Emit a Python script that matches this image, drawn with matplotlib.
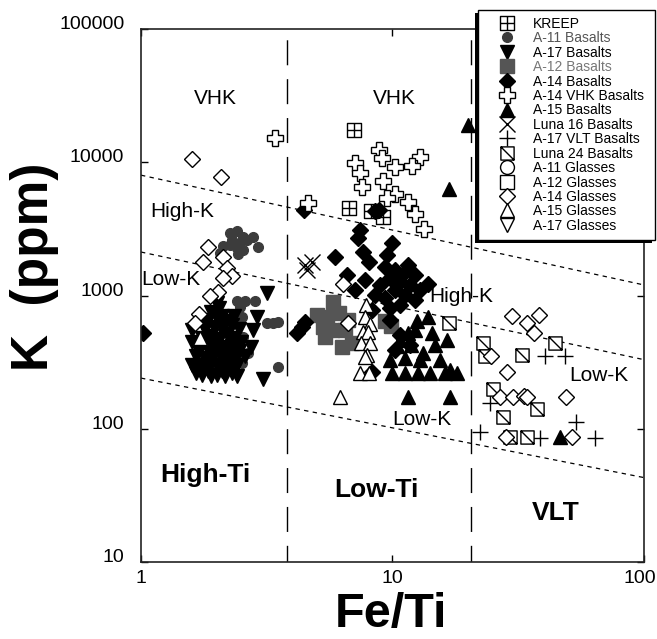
import numpy as np
import matplotlib
matplotlib.use("Agg")
import matplotlib.pyplot as plt
from matplotlib.path import Path
from matplotlib.patches import Rectangle
from matplotlib.transforms import ScaledTranslation

plt.rcParams['font.family'] = ['Liberation Sans', 'DejaVu Sans']

# ---- data (Fe/Ti, K ppm) ----
kreep_feti = [7.0, 6.7, 8.2, 9.2]
kreep_k = [17400, 4550, 4300, 3900]

a11_feti = [2.26, 2.40, 2.54, 2.31, 2.48, 2.64, 2.79, 2.92, 2.26, 2.40, 2.54, 2.43, 2.06, 2.12,
            2.40, 2.59, 2.84, 2.48, 2.31, 2.52, 2.26, 3.17, 3.35, 3.51, 2.36, 2.54, 2.66, 2.48,
            3.51, 2.52]
a11_k = [2960, 3050, 2750, 2610, 2460, 2610, 2750, 2330, 2400, 2260, 2200, 2050, 2090, 2340,
         905, 905, 905, 826, 655, 690, 630, 625, 625, 630, 440, 490, 370, 345, 290, 310]

a17_feti = [1.65, 1.75, 1.9, 2.0, 2.15, 2.3, 1.7, 1.85, 2.0, 2.2, 2.4, 1.65, 1.8, 1.95, 2.1,
            2.25, 2.45, 1.7, 1.85, 2.0, 2.15, 2.3, 1.75, 1.9, 2.05, 2.2, 2.35, 1.8, 1.95, 2.1,
            2.3, 1.85, 2.0, 2.15, 1.9, 2.05, 2.0, 2.1, 2.45, 2.5, 1.6, 1.6, 2.35, 2.6,
            1.7, 1.8, 1.9, 2.05, 2.2, 2.4, 1.75, 1.95, 2.1, 2.25, 1.85, 2.1, 2.25, 1.6, 2.35, 2.4,
            3.17, 2.89, 2.79, 3.06, 2.75]
a17_k = [260, 255, 250, 255, 250, 260, 300, 290, 300, 290, 300, 350, 340, 360, 340,
         350, 380, 420, 400, 430, 410, 420, 480, 500, 470, 510, 480, 560, 580, 550,
         600, 650, 680, 640, 750, 800, 880, 700, 560, 450, 450, 550, 700, 350,
         380, 440, 330, 370, 380, 420, 620, 450, 600, 470, 270, 270, 310, 300, 330, 250,
         1040, 690, 550, 235, 410]

a12_feti = [5.8, 5.0, 5.5, 6.1, 5.3, 5.75, 6.47, 6.65, 6.3, 6.9, 5.4, 9.3, 9.9]
a12_k = [900, 714, 690, 740, 580, 550, 550, 655, 410, 440, 490, 640, 590]

a14_feti = [1.02, 4.17, 4.45, 8.5, 8.8, 7.43, 7.26, 10.0, 7.6, 5.9, 9.5, 11.5, 6.6,
            9.3, 10.2, 11.2, 12.3, 9.8, 10.7, 11.7, 8.9, 10.2, 11.2, 9.3, 12.3, 10.7, 9.8,
            12.9, 8.5, 13.8, 8.3, 9.8, 8.1, 7.1, 7.8, 4.37, 4.49, 8.3, 10.7, 11.7, 10.2]
a14_k = [525, 525, 4390, 4300, 4390, 3100, 2700, 2460, 2130, 1960, 2010, 1690, 1430,
         1630, 1550, 1500, 1430, 1360, 1260, 1200, 1200, 1100, 1010, 960, 925, 849, 800,
         1100, 1010, 1230, 778, 655, 1790, 1100, 1310, 580, 630, 266, 505, 425, 390]

vhk_feti = [3.41, 4.6, 8.8, 12.9, 7.1, 9.1, 10.2, 12.0, 7.4, 9.2, 7.55, 10.2, 9.5, 11.5, 12.3, 13.3]
vhk_k = [15200, 4960, 12400, 11000, 9900, 10700, 9200, 9350, 8300, 7200, 6500, 5800, 5400,
         5050, 4100, 3170]

a15_feti = [19.9, 16.7, 12.5, 13.8, 11.5, 14.4, 16.5, 10.4, 13.2, 15.4, 10.0, 11.2, 12.6,
            14.1, 16.2, 18.0, 11.5, 16.9, 46.3, 10.7, 11.9, 12.9, 14.8, 11.2, 12.3, 9.8, 16.9]
a15_k = [19000, 6330, 640, 690, 520, 520, 463, 415, 370, 328, 264, 264, 264,
         264, 264, 264, 173, 173, 86, 463, 425, 328, 425, 340, 550, 328, 276]

luna16_feti = [4.5, 4.77, 4.57]
luna16_k = [1690, 1780, 1550]

vlt_feti = [40.4, 48.5, 24.4, 22.3, 38.6, 53.7, 63.9]
vlt_k = [350, 350, 157, 95, 85, 112, 85]

luna24_feti = [22.8, 23.3, 32.6, 44.3, 25.0, 37.5, 27.5, 29.3, 34.4, 16.7]
luna24_k = [440, 350, 355, 440, 198, 141, 122, 86, 86, 620]

a14g_feti = [1.6, 2.08, 1.85, 1.76, 2.12, 2.2, 2.3, 2.12, 2.02, 1.88, 1.70, 1.64, 6.35, 6.65,
             29.8, 34.2, 38.2, 36.4, 24.6, 28.5, 26.8, 30.1, 33.3, 34.4, 49.0, 28.3, 51.6]
a14g_k = [10640, 7800, 2300, 1770, 1960, 1610, 1400, 1350, 1070, 1000, 730, 620, 1230, 620,
          705, 620, 714, 520, 350, 268, 173, 173, 175, 173, 173, 86, 86]

a15g_feti = [7.85, 7.77, 8.14, 7.6, 8.0, 7.5, 8.14, 7.9, 7.77, 7.43, 8.07, 6.18, 1.72]
a15g_k = [850, 690, 615, 530, 530, 440, 440, 357, 345, 264, 264, 173, 480]

a11g_feti, a11g_k = [], []
a12g_feti, a12g_k = [], []
a17g_feti, a17g_k = [], []

# boundaries
vline_feti = [3.8, 20.5]
klines = [([1, 100], [8000, 1200]), ([1, 100], [2120, 330]), ([1, 100], [240, 43])]

# ---- custom markers ----
sq_cross = Path([(-1, -1), (1, -1), (1, 1), (-1, 1), (-1, -1), (0, -1), (0, 1), (-1, 0), (1, 0)],
                [Path.MOVETO, Path.LINETO, Path.LINETO, Path.LINETO, Path.CLOSEPOLY,
                 Path.MOVETO, Path.LINETO, Path.MOVETO, Path.LINETO])
sq_diag = Path([(-1, -1), (1, -1), (1, 1), (-1, 1), (-1, -1), (-1, 1), (1, -1)],
               [Path.MOVETO, Path.LINETO, Path.LINETO, Path.LINETO, Path.CLOSEPOLY,
                Path.MOVETO, Path.LINETO])

fig = plt.figure(figsize=(6.57, 6.39), dpi=100)
ax = fig.add_axes([0.2146, 0.1205, 0.7656, 0.8341])
ax.set_xscale('log')
ax.set_yscale('log')
ax.set_xlim(1, 100)
ax.set_ylim(10, 100000)

for xv in vline_feti:
    ax.axvline(xv, color='black', lw=1.0, ls=(6, (18, 10)), zorder=1)
for xs, ys in klines:
    ax.plot(xs, ys, color='black', lw=0.9, ls=(0, (3.5, 3.5)), zorder=1)

op = dict(linestyle='none')
ax.plot(kreep_feti, kreep_k, marker=sq_cross, ms=9.5, mfc='none', mec='black', mew=1, label='KREEP', **op)
ax.plot(a11_feti, a11_k, marker='o', ms=7, mfc='#3c3c3c', mec='#3c3c3c', label='A-11 Basalts', **op)
ax.plot(a17_feti, a17_k, marker='v', ms=10.5, mfc='black', mec='black', label='A-17 Basalts', **op)
ax.plot(a12_feti, a12_k, marker='s', ms=10.5, mfc='#555555', mec='#555555', label='A-12 Basalts', **op)
ax.plot(a14_feti, a14_k, marker='D', ms=8, mfc='black', mec='black', label='A-14 Basalts', **op)
ax.plot(vhk_feti, vhk_k, marker='P', ms=12, mfc='white', mec='black', mew=1, label='A-14 VHK Basalts', **op)
ax.plot(a15_feti, a15_k, marker='^', ms=10.5, mfc='black', mec='black', label='A-15 Basalts', **op)
ax.plot(luna16_feti, luna16_k, marker='x', ms=11, mec='black', mew=1, label='Luna 16 Basalts', **op)
ax.plot(vlt_feti, vlt_k, marker='+', ms=11, mec='black', mew=1, label='A-17 VLT Basalts', **op)
ax.plot(luna24_feti, luna24_k, marker=sq_diag, ms=9.5, mfc='white', mec='black', mew=1, label='Luna 24 Basalts', **op)
ax.plot(a11g_feti, a11g_k, marker='o', ms=10, mfc='white', mec='black', mew=1, label='A-11 Glasses', **op)
ax.plot(a12g_feti, a12g_k, marker='s', ms=10, mfc='white', mec='black', mew=1, label='A-12 Glasses', **op)
ax.plot(a14g_feti, a14g_k, marker='D', ms=8, mfc='white', mec='black', mew=1, label='A-14 Glasses', **op)
ax.plot(a15g_feti, a15g_k, marker='^', ms=10, mfc='white', mec='black', mew=1, label='A-15 Glasses', **op)
ax.plot(a17g_feti, a17g_k, marker='v', ms=10, mfc='white', mec='black', mew=1, label='A-17 Glasses', **op)

# region labels
ax.text(1.98, 30000, 'VHK', fontsize=15, ha='center', va='center')
ax.text(10.2, 30000, 'VHK', fontsize=15, ha='center', va='center')
ax.text(1.46, 4240, 'High-K', fontsize=15, ha='center', va='center')
ax.text(1.32, 1310, 'Low-K', fontsize=15, ha='center', va='center')
ax.text(18.8, 980, 'High-K', fontsize=15, ha='center', va='center')
ax.text(13.1, 117, 'Low-K', fontsize=15, ha='center', va='center')
ax.text(66, 251, 'Low-K', fontsize=15, ha='center', va='center')
ax.text(1.81, 39.8, 'High-Ti', fontsize=19, fontweight='bold', ha='center', va='baseline')
ax.text(8.6, 30.8, 'Low-Ti', fontsize=19, fontweight='bold', ha='center', va='baseline')
ax.text(44.7, 20.7, 'VLT', fontsize=19, fontweight='bold', ha='center', va='baseline')

ax.set_xticks([1, 10, 100], ['1', '10', '100'])
ax.set_yticks([10, 100, 1000, 10000, 100000], ['10', '100', '1000', '10000', '100000'])
ax.minorticks_off()
ax.tick_params(direction='in', length=5, width=1, top=True, right=True, labelsize=14)
ax.tick_params(axis='y', pad=12)
ax.tick_params(axis='x', pad=6)
for lbl in ax.get_yticklabels():
    lbl.set_verticalalignment('baseline')
last = ax.get_xticklabels()[-1]
last.set_transform(last.get_transform() + ScaledTranslation(-4 / 100, 0, fig.dpi_scale_trans))
for s in ax.spines.values():
    s.set_linewidth(1.2)
    s.set_color('#222222')

fig.text(35 / 657, 1 - 267 / 639, 'K  (ppm)', fontsize=37, fontweight='bold',
         rotation=90, ha='center', va='center')
fig.text(391 / 657, 1 - 614 / 639, 'Fe/Ti', fontsize=35, fontweight='bold',
         ha='center', va='center')

leg = fig.legend(loc='upper left', bbox_to_anchor=(478 / 657, 0, 177 / 657, 1 - 10 / 639),
                 mode='expand', fontsize=10,
                 frameon=True, fancybox=False, edgecolor='black', framealpha=1,
                 handlelength=3.2, handletextpad=0.25, labelspacing=0.03, borderpad=0.5,
                 borderaxespad=0)
leg.get_frame().set_linewidth(1.0)
leg.set_zorder(10)
leg.get_texts()[1].set_color('#555555')
leg.get_texts()[3].set_color('#777777')

# legend shadow (offset to lower-left)
fig.canvas.draw()
bb = leg.get_frame().get_window_extent()
shadow = Rectangle((bb.x0 - 3, bb.y0 - 3), bb.width, bb.height, transform=None,
                   facecolor='black', edgecolor='none', zorder=9.5)
fig.add_artist(shadow)

fig.savefig('out.png', dpi=100)
